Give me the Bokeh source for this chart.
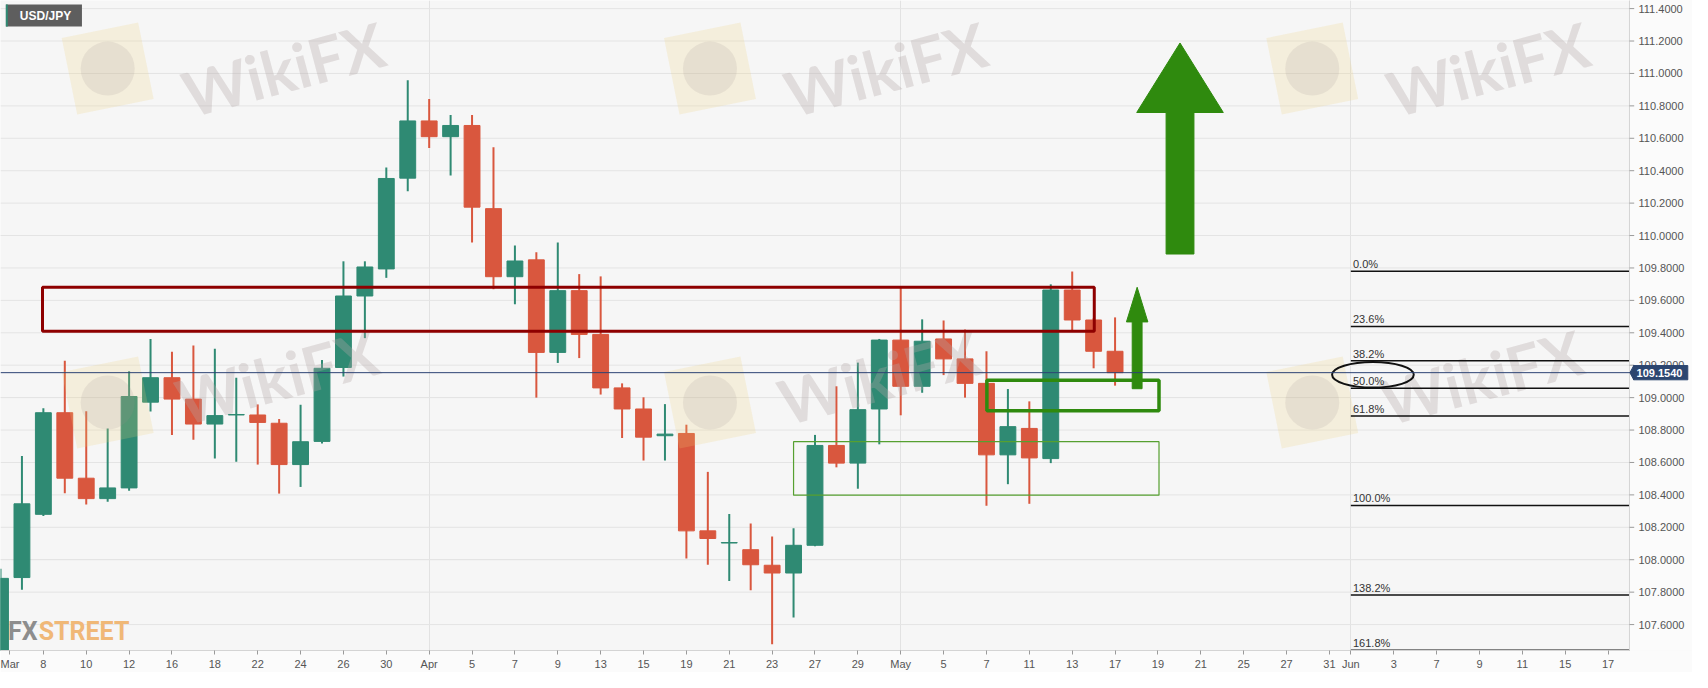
from bokeh.plotting import figure
from bokeh.models import FixedTicker, Range1d, ColumnDataSource
from bokeh.core.properties import value
from bokeh.embed import file_html
from bokeh.resources import INLINE

# ---------------- data (trading-day index 0 = 4 Mar 2021) ----------------
day_idx = list(range(53))
opens = [107.00, 107.89, 108.28, 108.907, 108.503, 108.377, 108.443, 108.972, 109.123, 108.991,
         108.837, 108.893, 108.893, 108.842, 108.587, 108.73, 109.186, 109.627, 109.794, 110.354,
         110.707, 110.61, 110.679, 110.166, 109.746, 109.85, 109.279, 109.66, 109.39, 109.06,
         108.93, 108.765, 108.779, 108.178, 108.103, 108.062, 107.966, 107.918, 108.089, 108.705,
         108.596, 108.93, 109.355, 109.07, 109.362, 109.239, 109.088, 108.647, 108.81, 108.624,
         109.664, 109.479, 109.286]
closes = [107.885, 108.345, 108.907, 108.503, 108.377, 108.443, 109.007, 109.123, 108.991, 108.837,
          108.889, 108.896, 108.847, 108.587, 108.728, 109.181, 109.627, 109.806, 110.352, 110.707,
          110.61, 110.679, 110.175, 109.746, 109.843, 109.279, 109.66, 109.39, 109.06, 108.93,
          108.756, 108.775, 108.178, 108.131, 108.106, 107.969, 107.918, 108.089, 108.705, 108.596,
          108.926, 109.355, 109.07, 109.348, 109.239, 109.088, 108.647, 108.821, 108.628, 109.664,
          109.479, 109.286, 109.154]
highs = [107.945, 108.64, 108.935, 109.228, 108.916, 108.81, 109.163, 109.362, 109.283, 109.321,
         109.302, 109.123, 108.958, 108.868, 108.956, 109.232, 109.841, 109.841, 110.419, 110.958,
         110.842, 110.744, 110.744, 110.545, 109.938, 109.897, 109.957, 109.762, 109.748, 109.088,
         109.002, 108.96, 108.833, 108.542, 108.282, 108.224, 108.143, 108.194, 108.77, 109.07,
         109.216, 109.362, 109.681, 109.483, 109.476, 109.42, 109.286, 109.053, 108.977, 109.699,
         109.778, 109.49, 109.495]
lows = [106.95, 107.815, 108.27, 108.41, 108.34, 108.357, 108.426, 108.914, 108.77, 108.74,
        108.624, 108.605, 108.587, 108.408, 108.449, 108.717, 109.13, 109.367, 109.739, 110.273,
        110.54, 110.37, 109.957, 109.669, 109.576, 109.0, 109.214, 109.244, 109.019, 108.751,
        108.612, 108.612, 108.008, 107.969, 107.869, 107.811, 107.478, 107.643, 108.083, 108.57,
        108.438, 108.712, 108.891, 109.03, 109.139, 109.0, 108.333, 108.466, 108.345, 108.596,
        109.413, 109.181, 109.074]

last_price = 109.154
last_price_text = "109.1540"

# axis ticks
y_ticks = [107.6, 107.8, 108.0, 108.2, 108.4, 108.6, 108.8, 109.0, 109.2, 109.4,
           109.6, 109.8, 110.0, 110.2, 110.4, 110.6, 110.8, 111.0, 111.2, 111.4]
y_tick_labels = ["107.6000", "107.8000", "108.0000", "108.2000", "108.4000", "108.6000",
                 "108.8000", "109.0000", "109.2000", "109.4000", "109.6000", "109.8000",
                 "110.0000", "110.2000", "110.4000", "110.6000", "110.8000", "111.0000",
                 "111.2000", "111.4000"]
x_tick_pos = [0.4, 2, 4, 6, 8, 10, 12, 14, 16, 18, 20, 22, 24, 26, 28, 30, 32, 34, 36, 38,
              40, 42, 44, 46, 48, 50, 52, 54, 56, 58, 60, 62, 63, 65, 67, 69, 71, 73, 75]
x_tick_labels = ["Mar", "8", "10", "12", "16", "18", "22", "24", "26", "30", "Apr", "5", "7",
                 "9", "13", "15", "19", "21", "23", "27", "29", "May", "5", "7", "11", "13",
                 "17", "19", "21", "25", "27", "31", "Jun", "3", "7", "9", "11", "15", "17"]
month_starts = [20, 42, 63]

# Fibonacci retracement (swing high / swing low)
fib_high = 109.78
fib_low = 108.335
fib_ratios = [0.0, 0.236, 0.382, 0.5, 0.618, 1.0, 1.382, 1.618]
fib_labels = ["0.0%", "23.6%", "38.2%", "50.0%", "61.8%", "100.0%", "138.2%", "161.8%"]
fib_start = 63
fib_levels = [fib_high - r * (fib_high - fib_low) for r in fib_ratios]

# drawn zones [left, right, bottom, top]
resist_zone = [1.96, 51.03, 109.409, 109.681]
support_zone_thin = [37.0, 54.05, 108.398, 108.728]
support_zone_thick = [46.02, 54.05, 108.919, 109.107]
# arrows: centre x, tip, head base, tail, head half width, shaft half width
small_arrow = [53.03, 109.681, 109.467, 109.055, 0.5, 0.23]
big_arrow = [55.03, 111.188, 110.759, 109.886, 2.02, 0.65]
ellipse_50 = [64.03, 109.141, 3.81, 0.158]

# watermarks
wm_text_x = [13.2, 41.3, 69.4, 12.9, 41.0, 69.1]
wm_text_y = [111.03, 111.03, 111.03, 109.13, 109.13, 109.13]
wm_logo_x = [5.0, 33.1, 61.2, 5.0, 33.1, 61.2]
wm_logo_y = [111.03, 111.03, 111.03, 108.97, 108.97, 108.97]

UP = "#2f8a73"
DOWN = "#d9573e"
GREEN = "#2f8a0e"
NAVY = "#2c4670"
FONT = "Liberation Sans"

X_END = 76.0          # right edge of the price pane (price scale starts here)
Y0, Y1 = 107.44, 111.45

# ---------------- figure ----------------
p = figure(width=1692, height=672, x_range=Range1d(0.0, 78.94), y_range=Range1d(Y0, Y1),
           y_axis_location=None, output_backend="svg", toolbar_location=None,
           min_border_left=0, min_border_top=0, min_border_right=0, min_border_bottom=22)
p.background_fill_color = "#f6f6f6"
p.border_fill_color = "#fbfbfb"
p.outline_line_color = None

p.xaxis.ticker = FixedTicker(ticks=x_tick_pos)
p.xaxis.major_label_overrides = {pos: lab for pos, lab in zip(x_tick_pos, x_tick_labels)}
p.xaxis.bounds = (0, X_END)
ax = p.xaxis[0]
ax.axis_line_color = "#d4d4d4"
ax.major_tick_line_color = "#9a9a9a"
ax.major_tick_in = 0
ax.major_tick_out = 4
ax.minor_tick_line_color = None
ax.major_label_text_font = FONT
ax.major_label_text_font_size = "11px"
ax.major_label_text_color = "#555555"
ax.major_label_standoff = 3
p.xgrid.ticker = FixedTicker(ticks=month_starts)
p.xgrid.grid_line_color = "#e2e2e2"

# price-scale background
p.quad(left=[X_END], right=[90], bottom=[100], top=[120], fill_color="#fbfbfb", line_alpha=0)
# horizontal grid
n_y = len(y_ticks)
p.segment(x0=[0] * n_y, y0=y_ticks, x1=[X_END] * n_y, y1=y_ticks, line_color="#e4e4e4",
          line_width=1)

# ---------------- candles ----------------
colors = [UP if c >= o else DOWN for o, c in zip(opens, closes)]
src = ColumnDataSource(dict(
    x=day_idx, high=highs, low=lows,
    top=[max(o, c) for o, c in zip(opens, closes)],
    bottom=[min(o, c) for o, c in zip(opens, closes)],
    color=colors))
p.segment(x0="x", y0="high", x1="x", y1="low", color="color", line_width=2, source=src)
p.vbar(x="x", width=0.74, top="top", bottom="bottom", fill_color="color",
       line_color="color", line_width=1, source=src)

# ---------------- watermarks ----------------
p.rect(x=wm_logo_x, y=wm_logo_y, width=78, height=78, width_units="screen",
       height_units="screen", angle=0.2, fill_color="#f2d37a", fill_alpha=0.2, line_alpha=0)
p.scatter(x=wm_logo_x, y=wm_logo_y, size=54, fill_color="#9a9090", fill_alpha=0.15,
          line_alpha=0)
p.text(x=wm_text_x, y=wm_text_y, text=["WikiFX"] * 6, angle=0.26,
       text_font=value("Lato"), text_font_style="bold", text_font_size="62px",
       text_color="#b3a8a8", text_alpha=0.33, text_align="center", text_baseline="middle")

# ---------------- drawn zones ----------------
def zone(z, color, width):
    p.quad(left=[z[0]], right=[z[1]], bottom=[z[2]], top=[z[3]], fill_alpha=0,
           line_color=color, line_width=width)

zone(resist_zone, "#8e0000", 3)
zone(support_zone_thin, "#56a030", 1.2)
zone(support_zone_thick, GREEN, 3.5)

def arrow(a):
    xc, yt, yb, ytail, hw, sw = a
    xs = [xc, xc + hw, xc + sw, xc + sw, xc - sw, xc - sw, xc - hw]
    ys = [yt, yb, yb, ytail, ytail, yb, yb]
    p.patch(xs, ys, fill_color=GREEN, line_color=GREEN, line_width=1)

arrow(small_arrow)
arrow(big_arrow)

# ---------------- fibonacci ----------------
n_f = len(fib_levels)
p.segment(x0=[fib_start] * n_f, y0=fib_levels, x1=[X_END] * n_f, y1=fib_levels,
          line_color="#111111", line_width=1.5)
p.text(x=[fib_start + 0.1] * n_f, y=fib_levels, text=fib_labels,
       text_font=value(FONT), text_font_size="11px", text_color="#333333",
       text_baseline="bottom", y_offset=-1)
p.ellipse(x=[ellipse_50[0]], y=[ellipse_50[1]], width=ellipse_50[2], height=ellipse_50[3],
          fill_alpha=0, line_color="#111111", line_width=2)

# ---------------- price scale (right) ----------------
p.segment(x0=[X_END], y0=[Y0], x1=[X_END], y1=[Y1 + 1], line_color="#d4d4d4", line_width=1)
p.segment(x0=[X_END] * n_y, y0=y_ticks, x1=[X_END + 0.22] * n_y, y1=y_ticks,
          line_color="#9a9a9a", line_width=1)
p.text(x=[X_END] * n_y, y=y_ticks, text=y_tick_labels, x_offset=9,
       text_font=value(FONT), text_font_size="11px", text_color="#555555",
       text_baseline="middle", text_align="left")

# last price line and tag
p.segment(x0=[0], y0=[last_price], x1=[X_END + 0.2], y1=[last_price], line_color="#2d4373",
          line_width=1)
p.patch([X_END + 0.02, X_END + 0.2, X_END + 0.2], [last_price, last_price + 0.044,
        last_price - 0.044], fill_color=NAVY, line_color=NAVY)
p.quad(left=[X_END + 0.19], right=[X_END + 2.72], bottom=[last_price - 0.044],
       top=[last_price + 0.044], fill_color=NAVY, line_color=NAVY)
p.text(x=[X_END + 0.19], y=[last_price], text=[last_price_text], x_offset=3,
       text_font=value(FONT), text_font_style="bold", text_font_size="11px",
       text_color="white", text_baseline="middle", text_align="left")

# ---------------- symbol box & logo ----------------
p.quad(left=[0.25], right=[3.8], bottom=[111.289], top=[111.425], fill_color="#5e5e5e",
       line_alpha=0)
p.quad(left=[0.25], right=[0.34], bottom=[111.289], top=[111.425], fill_color="#2f8a73",
       line_alpha=0)
p.text(x=[2.1], y=[111.357], text=["USD/JPY"], text_font=value(FONT),
       text_font_style="bold", text_font_size="12px", text_color="white",
       text_align="center", text_baseline="middle")
p.text(x=[0.35], y=[107.56], text=["FX"], text_font=value("Roboto"),
       text_font_style="bold", text_font_size="25px", text_color="#8d8d8d",
       text_baseline="alphabetic")
p.text(x=[1.78], y=[107.56], text=["STREET"], text_font=value("Roboto"),
       text_font_style="bold", text_font_size="25px", text_color="#f0b877",
       text_baseline="alphabetic")

open("out.html", "w").write(file_html(p, INLINE))
